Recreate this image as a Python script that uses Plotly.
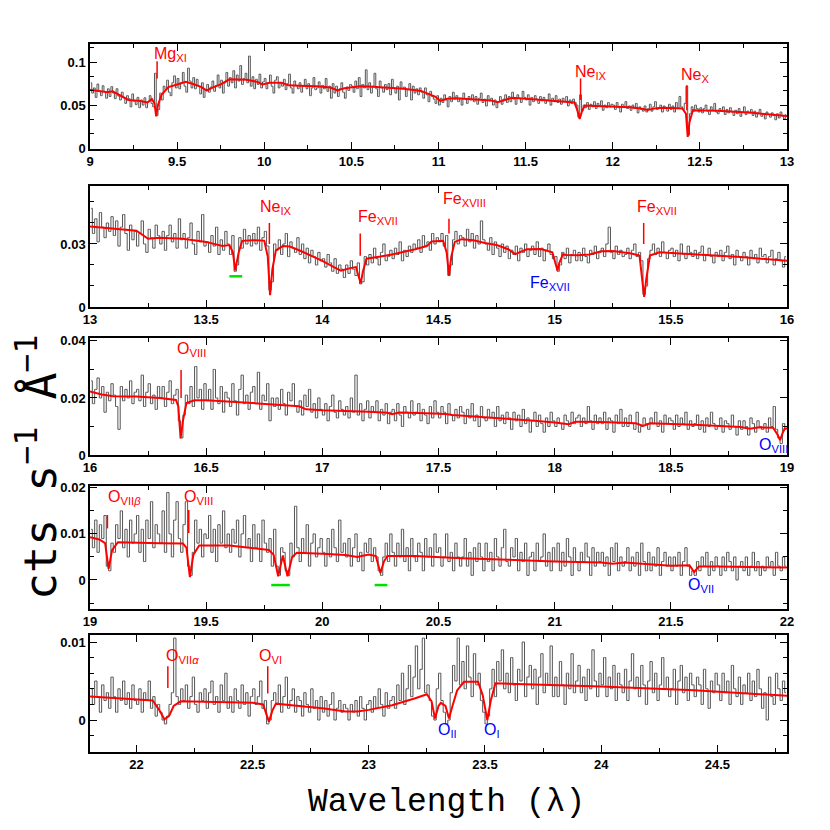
import plotly.graph_objects as go

# binned spectra: 0.01 A bins, flux in units of 1e-4 cts/s/A
BIN = 0.01
flux1 = [760, 640, 700, 590, 745, 660, 610, 725, 655, 580,
         690, 600, 715, 640, 575, 690, 605, 560, 650, 590,
         520, 610, 575, 480, 630, 545, 505, 590, 470, 560,
         500, 585, 470, 540, 610, 520, 480, 870, 380, 450,
         640, 560, 720, 680, 790, 650, 610, 760, 840, 700,
         810, 690, 760, 880, 720, 650, 930, 780, 700, 820,
         690, 800, 720, 630, 760, 590, 680, 740, 650, 710,
         780, 660, 730, 850, 700, 790, 640, 760, 880, 720,
         820, 760, 900, 700, 850, 780, 960, 740, 810, 870,
         760, 1070, 720, 830, 690, 800, 740, 860, 700, 770,
         810, 690, 760, 850, 720, 640, 790, 830, 700, 760,
         720, 800, 680, 750, 860, 700, 640, 780, 730, 690,
         760, 650, 720, 800, 690, 750, 610, 700, 820, 680,
         700, 770, 640, 730, 690, 810, 660, 720, 580, 750,
         640, 720, 600, 690, 760, 650, 580, 710, 670, 740,
         720, 650, 780, 690, 820, 600, 740, 700, 910, 680,
         760, 640, 720, 870, 690, 600, 780, 700, 650, 740,
         680, 750, 620, 800, 700, 640, 720, 560, 770, 690,
         710, 600, 680, 750, 560, 720, 640, 690, 620, 700,
         650, 580, 700, 620, 540, 660, 600, 570, 520, 610,
         500, 580, 530, 620, 560, 480, 600, 540, 650, 570,
         610, 540, 580, 500, 640, 570, 520, 600, 560, 620,
         540, 600, 510, 580, 640, 530, 570, 490, 610, 550,
         580, 500, 560, 470, 540, 600, 510, 570, 620, 530,
         600, 540, 650, 570, 510, 620, 580, 530, 660, 590,
         560, 620, 500, 590, 540, 610, 570, 520, 600, 550,
         590, 520, 560, 630, 500, 580, 540, 610, 530, 570,
         510, 580, 540, 600, 490, 560, 520, 570, 530, 500,
         360, 620, 430, 500, 470, 530, 450, 510, 480, 540,
         460, 520, 490, 550, 440, 500, 470, 530, 480, 510,
         500, 450, 530, 470, 420, 510, 480, 540, 460, 490,
         440, 500, 460, 520, 410, 480, 450, 430, 490, 420,
         460, 510, 430, 480, 540, 450, 470, 500, 420, 490,
         470, 430, 510, 450, 490, 420, 530, 460, 600, 480,
         450, 520, 720, 150, 400, 480, 430, 500, 460, 420,
         470, 410, 460, 500, 430, 390, 480, 440, 520, 420,
         400, 460, 430, 480, 390, 450, 410, 470, 420, 380,
         440, 400, 460, 370, 420, 480, 390, 430, 410, 450,
         380, 430, 360, 410, 450, 370, 400, 340, 420, 390,
         360, 410, 380, 330, 400, 350, 420, 370, 340, 390]
flux2 = [470, 350, 420, 310, 450, 380, 330, 400, 360, 430,
         340, 410, 290, 380, 440, 350, 270, 390, 320, 360,
         290, 350, 410, 300, 260, 370, 330, 280, 390, 340,
         300, 360, 270, 340, 390, 310, 350, 280, 420, 320,
         350, 280, 330, 400, 300, 250, 360, 310, 440, 290,
         310, 260, 340, 290, 380, 250, 320, 270, 360, 300,
         250, 340, 170, 200, 330, 280, 370, 300, 340, 290,
         350, 300, 380, 270, 330, 360, 290, 80, 120, 300,
         270, 320, 250, 300, 350, 240, 310, 280, 260, 330,
         250, 300, 230, 280, 210, 270, 240, 200, 260, 220,
         230, 190, 250, 210, 170, 230, 160, 200, 180, 140,
         200, 160, 220, 180, 150, 210, 110, 120, 240, 200,
         250, 210, 280, 230, 200, 260, 300, 220, 240, 270,
         230, 280, 250, 310, 220, 270, 240, 290, 260, 300,
         280, 320, 260, 340, 290, 310, 270, 350, 300, 330,
         310, 350, 290, 340, 150, 200, 320, 360, 300, 340,
         330, 290, 370, 310, 350, 280, 340, 300, 410, 320,
         300, 270, 330, 250, 310, 280, 240, 300, 260, 290,
         230, 270, 250, 290, 220, 280, 260, 300, 240, 270,
         290, 250, 310, 240, 280, 220, 270, 300, 250, 230,
         240, 170, 200, 260, 230, 280, 210, 250, 270, 220,
         260, 220, 280, 240, 210, 270, 250, 290, 230, 260,
         280, 240, 300, 380, 260, 230, 290, 250, 270, 240,
         250, 280, 230, 270, 300, 240, 260, 220, 60, 100,
         230, 270, 300, 250, 280, 240, 310, 260, 230, 270,
         280, 240, 270, 220, 300, 250, 230, 290, 260, 240,
         270, 230, 260, 290, 220, 250, 280, 240, 210, 260,
         240, 270, 220, 260, 290, 230, 250, 200, 270, 240,
         220, 260, 240, 200, 270, 230, 250, 210, 280, 240,
         250, 210, 240, 270, 200, 230, 260, 220, 190, 240]
flux3 = [260, 180, 230, 270, 200, 240, 150, 220, 190, 250,
         210, 170, 90, 240, 190, 230, 200, 260, 180, 220,
         230, 190, 280, 170, 220, 250, 180, 210, 160, 240,
         200, 240, 170, 220, 260, 180, 210, 230, 120, 60,
         140, 210, 180, 240, 170, 310, 200, 230, 160, 250,
         190, 230, 160, 300, 200, 180, 240, 150, 220, 200,
         170, 250, 190, 140, 230, 280, 180, 210, 160, 220,
         240, 180, 290, 160, 210, 190, 250, 120, 200, 170,
         200, 160, 230, 180, 140, 220, 190, 250, 170, 150,
         190, 140, 210, 170, 230, 150, 180, 130, 200, 160,
         140, 180, 120, 170, 210, 150, 130, 190, 160, 140,
         170, 130, 200, 150, 280, 140, 180, 120, 160, 190,
         130, 170, 150, 190, 120, 160, 140, 180, 110, 150,
         160, 120, 180, 140, 100, 170, 150, 130, 190, 140,
         150, 180, 120, 160, 140, 110, 170, 130, 190, 150,
         130, 170, 150, 110, 180, 140, 120, 160, 130, 170,
         150, 110, 160, 130, 180, 120, 140, 100, 170, 130,
         120, 160, 130, 150, 100, 170, 120, 140, 110, 150,
         130, 90, 150, 120, 140, 100, 160, 110, 130, 80,
         120, 150, 100, 140, 110, 80, 130, 100, 150, 120,
         100, 130, 110, 90, 140, 120, 100, 150, 110, 130,
         140, 100, 130, 110, 170, 120, 90, 140, 110, 130,
         110, 150, 90, 130, 120, 80, 140, 110, 160, 100,
         130, 100, 140, 110, 90, 150, 80, 100, 130, 110,
         90, 130, 110, 150, 100, 120, 80, 140, 110, 130,
         120, 90, 140, 100, 130, 110, 150, 90, 120, 100,
         110, 140, 90, 120, 80, 130, 100, 150, 110, 90,
         100, 130, 80, 120, 110, 90, 140, 100, 70, 120,
         90, 120, 100, 70, 130, 110, 80, 120, 100, 90,
         110, 80, 130, 100, 170, 90, 60, 40, 110, 90]
flux4 = [110, 70, 130, 60, 120, 90, 140, 30, 20, 80,
         60, 120, 90, 150, 70, 110, 50, 130, 80, 100,
         140, 60, 110, 40, 130, 90, 170, 70, 120, 100,
         80, 150, 60, 190, 100, 50, 130, 170, 90, 60,
         120, 170, 30, 10, 60, 130, 80, 110, 50, 100,
         90, 140, 60, 110, 40, 120, 80, 150, 70, 100,
         60, 110, 80, 130, 50, 100, 140, 70, 90, 40,
         120, 70, 100, 40, 130, 80, 60, 90, 30, 110,
         30, 10, 70, 60, 20, 10, 80, 50, 160, 70,
         40, 90, 60, 120, 30, 80, 100, 50, 70, 90,
         60, 30, 90, 50, 110, 70, 40, 130, 60, 80,
         50, 90, 30, 70, 100, 40, 60, 20, 80, 60,
         90, 40, 70, 50, 20, 10, 50, 80, 40, 100,
         60, 30, 80, 50, 110, 40, 70, 20, 90, 50,
         40, 80, 60, 20, 90, 50, 70, 30, 100, 60,
         70, 30, 50, 100, 40, 60, 20, 80, 50, 30,
         50, 90, 30, 60, 10, 70, 40, 80, 50, 20,
         80, 40, 60, 20, 90, 50, 30, 70, 110, 40,
         30, 70, 50, 90, 20, 60, 40, 80, 10, 50,
         60, 20, 80, 40, 50, 100, 30, 60, 20, 70,
         40, 80, 20, 60, 30, 90, 50, 10, 70, 40,
         20, 60, 40, 80, 50, 10, 70, 30, 60, 40,
         60, 30, 50, 10, 70, 40, 80, 20, 50, 30,
         40, 70, 20, 50, 30, 60, 10, 80, 40, 20,
         60, 20, 50, 30, 70, 10, 40, 60, 30, 50,
         20, 50, 30, 60, 10, 40, 70, 30, 10, 20,
         10, 40, 20, 50, 30, 60, 10, 40, 20, 50,
         30, 10, 50, 20, 60, 40, 20, 50, 0, 30,
         40, 20, 50, 10, 30, 60, 20, 40, 10, 30,
         20, 50, 30, 40, 10, 60, 30, 20, 50, 30]
flux5 = [40, 20, 50, 30, 10, 45, 25, 35, 15, 55,
         30, 10, 40, 25, 50, 20, 35, 15, 45, 25,
         20, 40, 10, 35, 25, 50, 15, 30, 5, 20,
         10, 0, -5, 5, 20, 35, 105, 30, 20, 40,
         25, 45, 15, 30, 55, 20, 10, 35, 25, 40,
         15, 35, 50, 20, 30, 10, 45, 25, 60, 15,
         30, 10, 40, 25, 15, 45, 20, 35, 5, 30,
         40, 20, 30, 50, 15, 25, -5, 0, 25, 35,
         20, 45, 10, 30, 55, 15, 25, 40, 10, 30,
         25, 5, 35, 20, 10, 40, 15, 25, 0, 30,
         10, 25, 5, 20, 35, 0, 15, 25, 10, 20,
         15, 0, 20, 10, 25, 5, 30, 15, 0, 20,
         25, 10, 30, 15, 40, 20, 5, 35, 15, 25,
         30, 15, 45, 25, 60, 20, 40, 70, 30, 55,
         95, 40, 65, 105, 35, 45, 25, 5, 0, 40,
         60, 25, 10, -5, 0, 35, 70, 50, 105, 45,
         75, 40, 95, 55, 30, 85, 45, 60, 25, 10,
         -5, 5, 40, 65, 30, 75, 50, 90, 40, 60,
         35, 80, 45, 25, 65, 50, 100, 30, 55, 70,
         40, 65, 20, 55, 85, 35, 60, 45, 95, 30,
         55, 30, 75, 45, 20, 60, 40, 85, 35, 50,
         70, 35, 55, 25, 65, 40, 90, 50, 30, 60,
         45, 80, 30, 55, 40, 70, 25, 60, 45, 35,
         65, 25, 50, 85, 40, 55, 30, 70, 45, 20,
         50, 75, 35, 60, 25, 45, 80, 40, 55, 30,
         40, 65, 20, 50, 70, 35, 55, 25, 60, 45,
         30, 55, 45, 20, 65, 40, 15, 50, 35, 60,
         45, 25, 60, 35, 50, 20, 70, 40, 30, 55,
         20, 45, 35, 60, 25, 50, 30, 65, 40, 15,
         35, 0, 55, 30, 20, 60, 40, 25, 50, 35]

model1_wave = [9.00, 9.05, 9.10, 9.13, 9.18, 9.22, 9.28, 9.33, 9.355, 9.37, 9.38, 9.39, 9.41, 9.45,
               9.50, 9.55, 9.60, 9.64, 9.67, 9.70, 9.75, 9.80, 9.90, 9.96, 9.99, 10.03, 10.10, 10.14,
               10.20, 10.30, 10.38, 10.42, 10.46, 10.50, 10.55, 10.60, 10.70, 10.80, 10.90, 10.95,
               10.98, 11.01, 11.05, 11.10, 11.20, 11.30, 11.34, 11.38, 11.42, 11.50, 11.60, 11.70,
               11.78, 11.795, 11.81, 11.825, 11.84, 11.90, 12.00, 12.10, 12.16, 12.20, 12.25, 12.30,
               12.40, 12.42, 12.43, 12.44, 12.46, 12.50, 12.60, 12.80, 13.00]
model1_flux = [68, 66.5, 65, 66, 60, 56, 55, 53, 57, 52, 37, 50, 62, 71,
               74, 77, 74, 71, 67, 70, 74, 80, 79.5, 77, 74, 76, 76, 73,
               72.5, 72, 70.5, 67, 69.5, 70.5, 72, 71.5, 70.5, 69, 66.5, 63,
               60, 55, 57.5, 58, 57, 55.5, 53.5, 56, 58.5, 57.5, 56, 54.5,
               53, 45, 34, 44, 49.5, 49, 48.5, 47.5, 46, 44.5, 46.5, 47,
               46, 40, 13, 30, 44, 44, 43.5, 41, 37.5]
model2_wave = [13.00, 13.10, 13.20, 13.25, 13.30, 13.40, 13.50, 13.57, 13.60, 13.615, 13.625, 13.64,
               13.655, 13.70, 13.75, 13.765, 13.775, 13.785, 13.80, 13.83, 13.86, 13.90, 13.95, 14.00,
               14.05, 14.08, 14.12, 14.145, 14.155, 14.165, 14.175, 14.19, 14.25, 14.30, 14.40, 14.45,
               14.47, 14.52, 14.535, 14.545, 14.555, 14.57, 14.60, 14.65, 14.70, 14.75, 14.80, 14.83,
               14.88, 14.94, 14.99, 15.005, 15.012, 15.02, 15.035, 15.05, 15.10, 15.15, 15.20, 15.25,
               15.33, 15.365, 15.375, 15.385, 15.395, 15.41, 15.45, 15.60, 15.80, 16.00]
model2_flux = [38.3, 37.3, 36.3, 32.5, 33.0, 32.5, 31.0, 29.0, 29.5, 26, 17.4, 26,
               31.5, 31.8, 31.6, 24, 5.6, 18, 27, 29.0, 28.8, 27.0, 24.5, 22.0,
               19.0, 17.3, 18.5, 19.0, 15, 11.3, 17, 23.0, 24.0, 25.0, 27.5, 29.0,
               31.2, 31.5, 26, 15.0, 24, 31.0, 32.3, 31.8, 30.5, 29.5, 27.5, 25.2,
               27.5, 27.6, 26.0, 20, 17.4, 21, 25.0, 24.7, 24.6, 25.0, 26.5, 26.6,
               25.5, 24.5, 16, 4.8, 14, 24.5, 26.0, 25.2, 23.8, 22.0]
model3_wave = [16.00, 16.05, 16.10, 16.20, 16.30, 16.37, 16.38, 16.39, 16.40, 16.415, 16.45, 16.50,
               16.70, 16.90, 16.93, 17.00, 17.20, 17.28, 17.30, 17.33, 17.45, 17.53, 17.56, 17.60,
               17.80, 17.90, 18.00, 18.04, 18.06, 18.09, 18.20, 18.35, 18.38, 18.41, 18.60, 18.80,
               18.84, 18.88, 18.94, 18.96, 18.97, 18.98, 18.99, 19.00]
model3_flux = [22.3, 21.2, 20.6, 20.5, 20.0, 19.3, 17, 5.8, 12, 18.2, 19.2, 19.2,
               18.2, 17.1, 16.0, 15.7, 15.2, 14.8, 14.3, 14.9, 14.6, 14.4, 14.0, 13.8,
               12.8, 12.1, 11.4, 11.0, 10.8, 11.7, 11.6, 11.1, 10.2, 11.1, 10.6, 9.8,
               9.2, 9.7, 9.6, 7.0, 5.2, 7.5, 9.3, 9.3]
model4_wave = [19.00, 19.04, 19.065, 19.08, 19.095, 19.12, 19.30, 19.40, 19.415, 19.43, 19.445, 19.47,
               19.60, 19.70, 19.77, 19.79, 19.81, 19.83, 19.85, 19.87, 19.89, 20.00, 20.10, 20.15,
               20.20, 20.23, 20.25, 20.265, 20.28, 20.40, 20.60, 20.80, 21.00, 21.20, 21.25, 21.30,
               21.45, 21.50, 21.58, 21.60, 21.62, 21.70, 22.00]
model4_flux = [9.3, 8.8, 8.0, 2.4, 6.5, 8.2, 8.0, 7.9, 7.0, 0.6, 5.5, 7.5,
               7.5, 7.0, 6.5, 5.5, 0.8, 5.3, 0.8, 5.0, 5.9, 5.7, 5.4, 5.0,
               5.5, 5.2, 1.5, 4.0, 5.2, 5.2, 4.7, 4.4, 4.0, 3.8, 3.5, 3.8,
               3.3, 3.1, 3.2, 1.7, 2.9, 2.9, 2.7]
model5_wave = [21.80, 22.00, 22.07, 22.10, 22.12, 22.14, 22.16, 22.19, 22.50, 22.545, 22.56, 22.57,
               22.585, 22.60, 22.70, 22.80, 22.90, 22.95, 23.00, 23.10, 23.20, 23.25, 23.27, 23.285,
               23.30, 23.31, 23.33, 23.345, 23.36, 23.38, 23.41, 23.47, 23.49, 23.51, 23.525, 23.545,
               24.00, 24.40, 24.80]
model5_flux = [3.0, 2.7, 2.5, 1.2, 0.1, 0.5, 1.8, 2.4, 2.2, 2.0, 0.6, -0.2,
               1.2, 2.1, 1.8, 1.5, 1.1, 1.1, 1.3, 1.9, 2.8, 3.3, 2.4, 0.2,
               1.8, 2.2, 1.8, 0.2, 1.8, 3.8, 4.9, 4.9, 3.2, 0.0, 2.5, 4.7,
               4.3, 3.8, 3.1]

# line identifications: panel, wavelength, tick bottom/top (flux), label x, label y, text, colour
RED, BLUE = "#ff0000", "#0000ff"
line_panel = [1, 1, 1, 2, 2, 2, 2, 2, 3, 3, 4, 4, 4, 5, 5, 5, 5]
line_wave = [9.385, 11.815, 12.425, 13.772, 14.163, 14.545, 15.383, None, 16.392, None,
             19.075, 19.425, None, 22.135, 22.565, None, None]
line_tick_lo = [0.081, 0.056, 0.044, 0.030, 0.0244, 0.035, 0.030, None, 0.020, None,
                0.0112, 0.0102, None, 0.0041, 0.0034, None, None]
line_tick_hi = [0.101, 0.081, 0.073, 0.040, 0.035, 0.042, 0.040, None, 0.0298, None,
                0.0141, 0.0152, None, 0.0069, 0.0069, None, None]
label_x = [9.46, 11.875, 12.47, 13.80, 14.24, 14.61, 15.44, 14.98, 16.435, 18.94,
           19.15, 19.465, 21.63, 22.20, 22.575, 23.34, 23.53]
label_y = [0.109, 0.088, 0.085, 0.0476, 0.0424, 0.051, 0.0476, 0.0114, 0.0368, 0.0035,
           0.018, 0.018, -0.0013, 0.0081, 0.0081, -0.0014, -0.0014]
label_text = ["Mg<sub>XI</sub>", "Ne<sub>IX</sub>", "Ne<sub>X</sub>", "Ne<sub>IX</sub>",
              "Fe<sub>XVII</sub>", "Fe<sub>XVIII</sub>", "Fe<sub>XVII</sub>", "Fe<sub>XVII</sub>",
              "O<sub>VIII</sub>", "O<sub>VIII</sub>", "O<sub>VII<i>β</i></sub>", "O<sub>VIII</sub>",
              "O<sub>VII</sub>", "O<sub>VII<i>α</i></sub>", "O<sub>VI</sub>", "O<sub>II</sub>",
              "O<sub>I</sub>"]
label_color = [RED, RED, RED, RED, RED, RED, RED, BLUE, RED, BLUE, RED, RED, BLUE, RED, RED, BLUE, BLUE]

# green bars under unidentified features: panel, start, end, flux level
bar_panel = [2, 4, 4]
bar_start = [13.60, 19.78, 20.225]
bar_end = [13.655, 19.86, 20.28]
bar_level = [0.0146, -0.0011, -0.0011]

panels = [
    dict(flux=flux1, start=9.0, mw=model1_wave, mf=model1_flux, xr=[9, 13],
         yr=[-0.001, 0.121], yd=[0.8301, 0.9566], yt=[0, 0.05, 0.1], ym=0.05 / 3),
    dict(flux=flux2, start=13.0, mw=model2_wave, mf=model2_flux, xr=[13, 16],
         yr=[0, 0.0576], yd=[0.6398, 0.7855], yt=[0, 0.03], ym=0.01),
    dict(flux=flux3, start=16.0, mw=model3_wave, mf=model3_flux, xr=[16, 19],
         yr=[0, 0.041], yd=[0.4614, 0.6024], yt=[0, 0.02, 0.04], ym=0.01),
    dict(flux=flux4, start=19.0, mw=model4_wave, mf=model4_flux, xr=[19, 22],
         yr=[-0.0063, 0.0204], yd=[0.2759, 0.4241], yt=[0, 0.01, 0.02], ym=0.005),
    dict(flux=flux5, start=21.8, mw=model5_wave, mf=model5_flux, xr=[21.8, 24.8],
         yr=[-0.0041, 0.0109], yd=[0.1036, 0.2446], yt=[0, 0.01], ym=0.002),
]

tickfont = dict(family="Liberation Sans", size=13, color="black", weight="bold")
fig = go.Figure()
layout = {}
for i, p in enumerate(panels, start=1):
    sfx = "" if i == 1 else str(i)
    fig.add_trace(go.Scatter(
        x0=p["start"] + BIN / 2, dx=BIN, y=[v * 1e-4 for v in p["flux"]],
        mode="lines", line=dict(color="#555555", width=1, shape="hvh"),
        xaxis="x" + sfx, yaxis="y" + sfx, hoverinfo="skip"))
    fig.add_trace(go.Scatter(
        x=p["mw"], y=[v * 1e-3 for v in p["mf"]],
        mode="lines", line=dict(color="#ff0000", width=2),
        xaxis="x" + sfx, yaxis="y" + sfx, hoverinfo="skip"))
    common = dict(showline=True, linecolor="black", linewidth=1.5, mirror="ticks",
                  ticks="inside", ticklen=7, tickwidth=1.2, tickcolor="black",
                  showgrid=False, zeroline=False, automargin=False, tickfont=tickfont)
    layout["xaxis" + sfx] = dict(domain=[0.0988, 0.9386], range=p["xr"], anchor="y" + sfx,
                                 dtick=0.5, tick0=0,
                                 minor=dict(dtick=0.25, tick0=0, ticks="inside", ticklen=4,
                                            tickcolor="black", tickwidth=1.2),
                                 **common)
    layout["yaxis" + sfx] = dict(domain=p["yd"], range=p["yr"], anchor="x" + sfx,
                                 tickvals=p["yt"], ticktext=[f"{v:g}" for v in p["yt"]],
                                 minor=dict(dtick=p["ym"], tick0=0, ticks="inside", ticklen=4,
                                            tickcolor="black", tickwidth=1.2),
                                 **common)

shapes = []
annotations = []
for k in range(len(label_text)):
    sfx = "" if line_panel[k] == 1 else str(line_panel[k])
    if line_wave[k] is not None:
        shapes.append(dict(type="line", xref="x" + sfx, yref="y" + sfx,
                           x0=line_wave[k], x1=line_wave[k],
                           y0=line_tick_lo[k], y1=line_tick_hi[k],
                           line=dict(color=RED, width=1.5)))
    annotations.append(dict(xref="x" + sfx, yref="y" + sfx, x=label_x[k], y=label_y[k],
                            xanchor="center", yanchor="middle",
                            text=label_text[k], showarrow=False,
                            font=dict(family="Liberation Sans", size=16, color=label_color[k])))
for k in range(len(bar_panel)):
    sfx = "" if bar_panel[k] == 1 else str(bar_panel[k])
    shapes.append(dict(type="line", xref="x" + sfx, yref="y" + sfx,
                       x0=bar_start[k], x1=bar_end[k], y0=bar_level[k], y1=bar_level[k],
                       line=dict(color="#00e000", width=2.5)))

annotations.append(dict(xref="paper", yref="paper", x=438 / 830, y=1 - 794 / 830,
                        xanchor="center", yanchor="middle",
                        text="Wavelength (λ)", showarrow=False,
                        font=dict(family="Liberation Mono, Courier New, monospace", size=33,
                                  color="black")))
annotations.append(dict(xref="paper", yref="paper", x=29 / 830, y=1 - 459 / 830,
                        xanchor="center", yanchor="middle",
                        text="cts s<sup>−1</sup> Å<sup>−1</sup>", showarrow=False, textangle=-90,
                        font=dict(family="DejaVu Sans Mono", size=45, color="black")))

fig.update_layout(width=830, height=830, margin=dict(l=0, r=0, t=0, b=0),
                  paper_bgcolor="white", plot_bgcolor="white", showlegend=False,
                  shapes=shapes, annotations=annotations, **layout)
fig.write_html("out.html")
